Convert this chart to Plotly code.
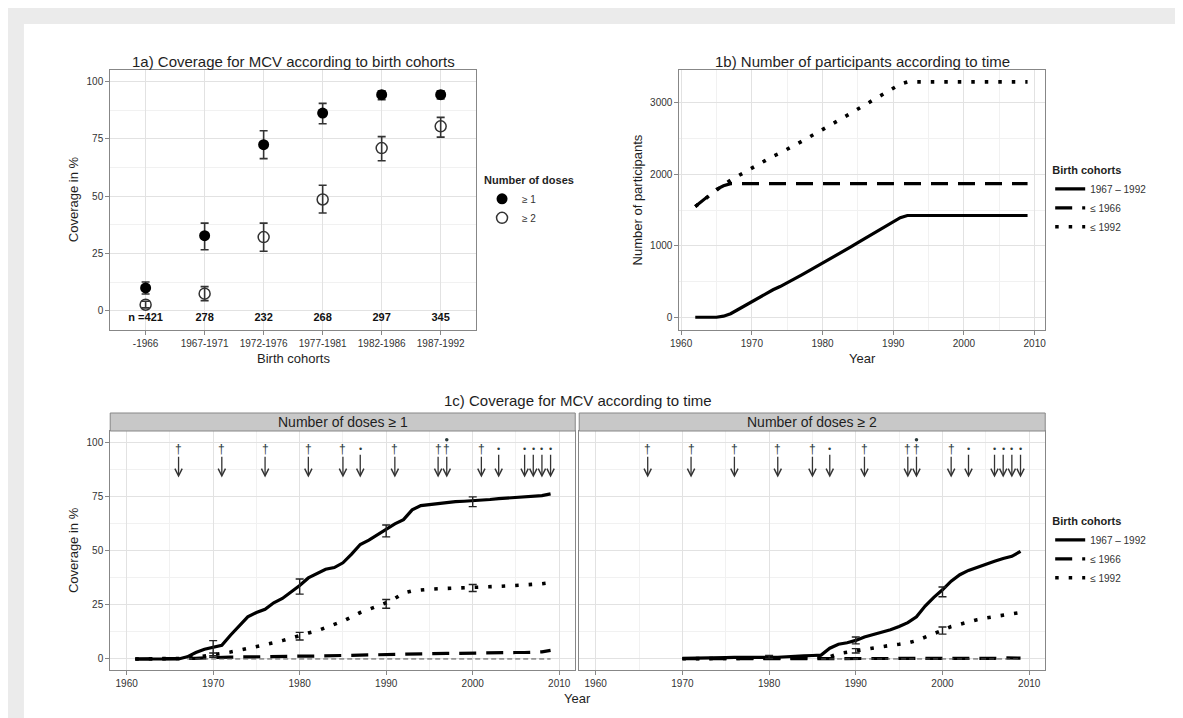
import plotly.graph_objects as go

# ---------------- DATA ----------------
# 1a) coverage by birth cohort
cohorts = ["-1966", "1967-1971", "1972-1976", "1977-1981", "1982-1986", "1987-1992"]
n_counts = [421, 278, 232, 268, 297, 345]
cov1 = [9.9, 32.7, 72.4, 86.2, 94.2, 94.2]
cov1_lo = [7.3, 26.6, 66.3, 81.5, 92.0, 92.3]
cov1_hi = [12.5, 38.2, 78.5, 90.4, 95.9, 95.9]
cov2 = [2.6, 7.4, 32.1, 48.5, 70.9, 80.4]
cov2_lo = [1.2, 4.4, 25.9, 42.6, 65.4, 75.7]
cov2_hi = [4.1, 10.5, 38.2, 54.7, 75.9, 84.3]

# 1b) number of participants by year
years_b = list(range(1962, 2010))
part_1967_1992 = [0, 0, 0, 0, 15, 50, 105, 160, 220, 280, 335, 385, 430, 480, 535, 590, 645,
                  700, 755, 810, 865, 925, 985, 1045, 1105, 1165, 1225, 1285, 1345, 1395, 1425,
                  1425, 1425, 1425, 1425, 1425, 1425, 1425, 1425, 1425, 1425, 1425, 1425, 1425,
                  1425, 1425, 1425, 1425]
part_le1966 = [1550, 1625, 1710, 1790, 1840, 1870, 1870, 1870, 1870, 1870, 1870, 1870, 1870,
               1870, 1870, 1870, 1870, 1870, 1870, 1870, 1870, 1870, 1870, 1870, 1870, 1870,
               1870, 1870, 1870, 1870, 1870, 1870, 1870, 1870, 1870, 1870, 1870, 1870, 1870,
               1870, 1870, 1870, 1870, 1870, 1870, 1870, 1870, 1870]
part_le1992 = [1550, 1625, 1710, 1790, 1855, 1920, 1975, 2030, 2090, 2150, 2205, 2255, 2300,
               2350, 2405, 2460, 2515, 2570, 2625, 2680, 2735, 2795, 2855, 2915, 2975, 3035,
               3095, 3155, 3215, 3265, 3295, 3295, 3295, 3295, 3295, 3295, 3295, 3295, 3295,
               3295, 3295, 3295, 3295, 3295, 3295, 3295, 3295, 3295]

# 1c) coverage by year, >=1 dose (1961-2009)
years_c1 = list(range(1961, 2010))
c1_1967_1992 = [0, 0, 0, 0, 0, 0, 1, 3, 4.5, 5.5, 6.3, 11, 15.5, 19.5, 21.5, 23, 26, 28, 31, 34,
                37.5, 39.5, 41.5, 42.3, 44.5, 48.5, 53, 55, 57.5, 60, 62.5, 64.5, 69, 71, 71.5,
                72, 72.5, 72.8, 73, 73.2, 73.5, 73.8, 74.2, 74.5, 74.7, 75, 75.2, 75.6, 76.4]
c1_le1966 = [0, 0, 0, 0, 0, 0, 0.1, 0.3, 0.5, 0.7, 0.8, 0.9, 0.9, 1.0, 1.0, 1.1, 1.1, 1.2, 1.2,
             1.3, 1.3, 1.4, 1.5, 1.5, 1.6, 1.7, 1.8, 1.9, 2.0, 2.1, 2.2, 2.3, 2.3, 2.4, 2.5, 2.5,
             2.6, 2.6, 2.7, 2.7, 2.8, 2.8, 2.9, 2.9, 3.0, 3.0, 3.1, 3.3, 4.0]
c1_le1992 = [0, 0, 0, 0, 0, 0, 0.3, 0.8, 1.3, 1.8, 2.5, 3.2, 4, 4.8, 5.5, 6.3, 7.5, 8.5, 9.8, 11,
             12, 13, 14.5, 15.8, 17.5, 19.5, 21.5, 23, 24.5, 26, 28, 30.5, 31.5, 32, 32.3, 32.5,
             32.6, 32.7, 32.8, 33, 33.2, 33.4, 33.6, 33.8, 34, 34.2, 34.5, 34.8, 35.3]

# 1c) coverage by year, >=2 doses (1970-2009)
years_c2 = list(range(1970, 2010))
c2_1967_1992 = [0.3, 0.3, 0.4, 0.5, 0.6, 0.6, 0.7, 0.8, 0.8, 0.8, 0.8, 0.8, 0.9, 1.0, 1.4, 1.6,
                1.8, 5.0, 6.8, 7.5, 8.6, 10.2, 11.3, 12.2, 13.5, 15, 16.8, 19.5, 24.5, 28.5, 32,
                36, 39, 41, 42.5, 44, 45.2, 46.5, 47.5, 49.8]
c2_le1966 = [0.1, 0.1, 0.1, 0.1, 0.1, 0.1, 0.1, 0.1, 0.1, 0.1, 0.1, 0.1, 0.1, 0.1, 0.1, 0.1,
             0.1, 0.1, 0.1, 0.1, 0.1, 0.1, 0.1, 0.1, 0.1, 0.1, 0.1, 0.1, 0.1, 0.1, 0.1, 0.1,
             0.1, 0.1, 0.1, 0.2, 0.3, 0.5, 0.5, 0.4]
c2_le1992 = [0.1, 0.1, 0.1, 0.2, 0.2, 0.2, 0.2, 0.3, 0.3, 0.3, 0.3, 0.3, 0.4, 0.4, 0.5, 0.5,
             0.6, 1.0, 2.5, 3.2, 3.8, 4.5, 5.2, 5.9, 6.3, 6.8, 7.4, 8.5, 10, 11.8, 13.3, 15,
             16.2, 17.3, 18.2, 19, 19.6, 20.2, 20.8, 21.5]

# error bars in 1c
err_years_c1 = [1970, 1980, 1990, 2000]
c1_solid_mid = [5.5, 34, 59, 72.5]
c1_solid_lo = [1.5, 30, 56.5, 70.5]
c1_solid_hi = [8.5, 37, 62, 75]
c1_dot_mid = [1.8, 10.5, 25.5, 32.8]
c1_dot_lo = [0.8, 8.8, 23.5, 31.2]
c1_dot_hi = [2.8, 12.3, 27.5, 34.5]
err_years_c2_solid = [1980, 1990, 2000]
c2_solid_mid = [0.8, 8.6, 31]
c2_solid_lo = [0.2, 7, 28.8]
c2_solid_hi = [1.6, 10.2, 33.3]
err_years_c2_dot = [1990, 2000]
c2_dot_mid = [3.8, 13]
c2_dot_lo = [2.8, 11.5]
c2_dot_hi = [4.8, 14.8]

# thin reference lines at zero
ref_years_c1 = [1967, 2009]
ref_years_c2 = [1986, 2009]
ref_zero = [0, 0]

# event arrows
arrow_years = [1966, 1971, 1976, 1981, 1985, 1987, 1991, 1996, 1997, 2001, 2003, 2006, 2007, 2008, 2009]
arrow_marks = ["†", "†", "†", "†", "†", "•", "†", "†", "†", "†", "•", "•", "•", "•", "•"]
extra_dot_years = [1997]
extra_dot_level = [101.5]
arrow_top = 97
arrow_tip = 84

cohort_names = ["1967 – 1992", "≤ 1966", "≤ 1992"]

# ---------------- STYLE / LAYOUT HELPERS ----------------
W, H = 1183, 718
FONT = "Liberation Sans, Arial, sans-serif"
DARK = "#1e1e1e"


def fx(p):
    return p / W


def fy(p):
    return 1 - p / H


SOLID = dict(color="black", width=3.2)
DASHED = dict(color="black", width=3.2, dash="17px,10px")
DOTTED = dict(color="black", width=3.6, dash="3.5px,10px")
styles = [SOLID, DASHED, DOTTED]

fig = go.Figure()

# ---- 1a ----
fig.add_trace(go.Scatter(
    x=cohorts, y=cov1, mode="markers", name="≥ 1", legend="legend",
    marker=dict(symbol="circle", size=11, color="black"),
    error_y=dict(type="data", symmetric=False,
                 array=[h - c for h, c in zip(cov1_hi, cov1)],
                 arrayminus=[c - l for c, l in zip(cov1, cov1_lo)],
                 color="#333", thickness=1.6, width=4),
    xaxis="x", yaxis="y"))
fig.add_trace(go.Scatter(
    x=cohorts, y=cov2, mode="markers", name="≥ 2", legend="legend",
    marker=dict(symbol="circle-open", size=11, color="#333", line=dict(width=1.5)),
    error_y=dict(type="data", symmetric=False,
                 array=[h - c for h, c in zip(cov2_hi, cov2)],
                 arrayminus=[c - l for c, l in zip(cov2, cov2_lo)],
                 color="#333", thickness=1.6, width=4),
    xaxis="x", yaxis="y"))
n_text = ["<b>n =%d</b>" % n_counts[0]] + ["<b>%d</b>" % v for v in n_counts[1:]]
fig.add_trace(go.Scatter(
    x=cohorts, y=[-3.5] * len(cohorts), mode="text", text=n_text, showlegend=False,
    textfont=dict(size=11, color="#111", family=FONT), xaxis="x", yaxis="y",
    hoverinfo="skip"))

# ---- 1b ----
for name, vals, st in zip(cohort_names, [part_1967_1992, part_le1966, part_le1992], styles):
    fig.add_trace(go.Scatter(x=years_b, y=vals, mode="lines", name=name, line=st,
                             legend="legend2", xaxis="x2", yaxis="y2"))

# ---- 1c left ----
for name, vals, st in zip(cohort_names, [c1_1967_1992, c1_le1966, c1_le1992], styles):
    fig.add_trace(go.Scatter(x=years_c1, y=vals, mode="lines", name=name, line=st,
                             legend="legend3", xaxis="x3", yaxis="y3"))
# ---- 1c right ----
for name, vals, st in zip(cohort_names, [c2_1967_1992, c2_le1966, c2_le1992], styles):
    fig.add_trace(go.Scatter(x=years_c2, y=vals, mode="lines", name=name, line=st,
                             showlegend=False, xaxis="x4", yaxis="y4"))

# reference zero lines
fig.add_trace(go.Scatter(x=ref_years_c1, y=ref_zero, mode="lines", showlegend=False,
                         line=dict(color="#555", width=1, dash="5px,3px"), xaxis="x3", yaxis="y3"))
fig.add_trace(go.Scatter(x=ref_years_c2, y=ref_zero, mode="lines", showlegend=False,
                         line=dict(color="#555", width=1, dash="5px,3px"), xaxis="x4", yaxis="y4"))


def err_trace(xs, mid, lo, hi, xa, ya):
    return go.Scatter(
        x=xs, y=mid, mode="markers", showlegend=False, hoverinfo="skip",
        marker=dict(size=1, color="rgba(0,0,0,0)"),
        error_y=dict(type="data", symmetric=False,
                     array=[h - m for h, m in zip(hi, mid)],
                     arrayminus=[m - l for m, l in zip(mid, lo)],
                     color="#222", thickness=1.4, width=4),
        xaxis=xa, yaxis=ya)


fig.add_trace(err_trace(err_years_c1, c1_solid_mid, c1_solid_lo, c1_solid_hi, "x3", "y3"))
fig.add_trace(err_trace(err_years_c1, c1_dot_mid, c1_dot_lo, c1_dot_hi, "x3", "y3"))
fig.add_trace(err_trace(err_years_c2_solid, c2_solid_mid, c2_solid_lo, c2_solid_hi, "x4", "y4"))
fig.add_trace(err_trace(err_years_c2_dot, c2_dot_mid, c2_dot_lo, c2_dot_hi, "x4", "y4"))

# extra dot above the 1997 marker
for xa, ya in [("x3", "y3"), ("x4", "y4")]:
    fig.add_trace(go.Scatter(x=extra_dot_years, y=extra_dot_level, mode="markers",
                             showlegend=False, hoverinfo="skip",
                             marker=dict(size=3.5, color="#2a3a3a"), xaxis=xa, yaxis=ya))

# ---------------- AXES ----------------
GRID = "#e2e2e2"
MINOR = "#f1f1f1"
BORDER = "#878787"
common = dict(showline=True, linecolor=BORDER, linewidth=1, mirror=True, ticks="outside",
              ticklen=4, tickcolor=BORDER, gridcolor=GRID, gridwidth=1, zeroline=False,
              tickfont=dict(size=10, color="#333333", family=FONT), showgrid=True)

years_range = [1958.1, 2011.85]
layout_axes = dict(
    xaxis=dict(common, domain=[fx(94), fx(463)], anchor="y", type="category",
               categoryorder="array", categoryarray=cohorts, range=[-0.6, 5.6]),
    yaxis=dict(common, domain=[fy(321.7), fy(61.7)], anchor="x", range=[-8.3, 105.1],
               tickvals=[0, 25, 50, 75, 100],
               minor=dict(showgrid=True, gridcolor=MINOR, tickvals=[12.5, 37.5, 62.5, 87.5])),
    xaxis2=dict(common, domain=[fx(668), fx(1037)], anchor="y2", range=[1959.75, 2011.5],
                tick0=1960, dtick=10, tickformat="d",
                minor=dict(showgrid=True, gridcolor=MINOR, dtick=5)),
    yaxis2=dict(common, domain=[fy(321.7), fy(61.7)], anchor="x2", range=[-174, 3466],
                tickvals=[0, 1000, 2000, 3000], tickformat="d",
                minor=dict(showgrid=True, gridcolor=MINOR, dtick=500)),
    xaxis3=dict(common, domain=[fx(94), fx(563)], anchor="y3", range=years_range,
                tick0=1960, dtick=10, tickformat="d",
                minor=dict(showgrid=True, gridcolor=MINOR, dtick=5)),
    yaxis3=dict(common, domain=[fy(662), fy(423)], anchor="x3", range=[-5.1, 105.5],
                tickvals=[0, 25, 50, 75, 100],
                minor=dict(showgrid=True, gridcolor=MINOR, tickvals=[12.5, 37.5, 62.5, 87.5])),
    xaxis4=dict(common, domain=[fx(567), fx(1037)], anchor="y4", range=years_range,
                tick0=1960, dtick=10, tickformat="d",
                minor=dict(showgrid=True, gridcolor=MINOR, dtick=5)),
    yaxis4=dict(common, domain=[fy(662), fy(423)], anchor="x4", range=[-5.1, 105.5],
                tickvals=[0, 25, 50, 75, 100], showticklabels=False, ticks="",
                minor=dict(showgrid=True, gridcolor=MINOR, tickvals=[12.5, 37.5, 62.5, 87.5])),
)

# ---------------- ANNOTATIONS ----------------
ann = []


def text_ann(txt, x, y, size, angle=0, color=DARK):
    ann.append(dict(text=txt, x=fx(x), y=fy(y), xref="paper", yref="paper", showarrow=False,
                    xanchor="center", yanchor="middle", textangle=angle,
                    font=dict(size=size, color=color, family=FONT)))


text_ann("1a) Coverage for MCV according to birth cohorts", 278.5, 53, 15)
text_ann("1b) Number of participants according to time", 852.5, 53, 15)
text_ann("1c) Coverage for MCV according to time", 565.5, 393, 15)
text_ann("Coverage in %", 57, 191.7, 13, -90)
text_ann("Birth cohorts", 278.5, 350, 13)
text_ann("Number of participants", 626, 191.7, 13, -90)
text_ann("Year", 852.5, 350, 13)
text_ann("Coverage in %", 57, 542.5, 13, -90)
text_ann("Year", 565.5, 690, 13)
text_ann("Number of doses ≥ 1", 328.5, 414, 14)
text_ann("Number of doses ≥ 2", 802, 414, 14)

for xa, ya in [("x3", "y3"), ("x4", "y4")]:
    for yr, mk in zip(arrow_years, arrow_marks):
        ann.append(dict(
            x=yr, y=arrow_tip, ax=yr, ay=arrow_top, xref=xa, yref=ya, axref=xa, ayref=ya,
            text=mk, showarrow=True, arrowhead=5, arrowsize=1.1, arrowwidth=1.3,
            arrowcolor="#333", standoff=0, startstandoff=0, borderpad=0,
            font=dict(size=12 if mk == "†" else 9, color="#2a3a3a", family=FONT)))

# ---------------- SHAPES ----------------
shapes = [
    dict(type="rect", xref="paper", yref="paper", x0=fx(7), x1=fx(1168), y0=0, y1=fy(16),
         fillcolor="white", line=dict(width=0), layer="below"),
    dict(type="rect", xref="paper", yref="paper", x0=fx(94), x1=fx(563), y0=fy(423), y1=fy(405),
         fillcolor="#c8c8c8", line=dict(color=BORDER, width=1), layer="above"),
    dict(type="rect", xref="paper", yref="paper", x0=fx(567), x1=fx(1037), y0=fy(423), y1=fy(405),
         fillcolor="#c8c8c8", line=dict(color=BORDER, width=1), layer="above"),
]

legend_common = dict(xanchor="left", yanchor="top", bgcolor="rgba(0,0,0,0)", borderwidth=0,
                     font=dict(size=10, color="#333", family=FONT), tracegroupgap=0,
                     itemwidth=30, traceorder="normal")

fig.update_layout(
    width=W, height=H, autosize=False,
    margin=dict(l=0, r=0, t=0, b=0, pad=0),
    paper_bgcolor="#ebebeb", plot_bgcolor="white",
    font=dict(family=FONT, color=DARK),
    showlegend=True,
    legend=dict(legend_common, x=fx(469), y=fy(162),
                title=dict(text="<b>Number of doses</b>", font=dict(size=11, color=DARK))),
    legend2=dict(legend_common, x=fx(1042), y=fy(152),
                 title=dict(text="<b>Birth cohorts</b>", font=dict(size=11, color=DARK))),
    legend3=dict(legend_common, x=fx(1042), y=fy(503),
                 title=dict(text="<b>Birth cohorts</b>", font=dict(size=11, color=DARK))),
    annotations=ann,
    shapes=shapes,
    hovermode=False,
    **layout_axes,
)

fig.write_html("out.html")
